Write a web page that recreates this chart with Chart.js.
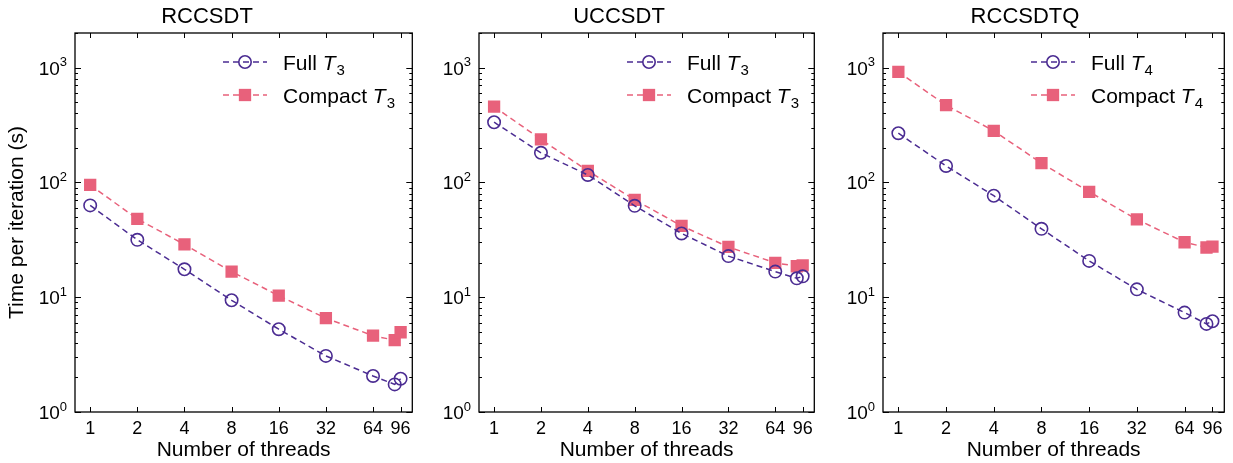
<!DOCTYPE html>
<html>
<head>
<meta charset="utf-8">
<script src="https://cdn.jsdelivr.net/npm/chart.js@4/dist/chart.umd.min.js"></script>
<style>
  html, body { margin: 0; padding: 0; background: #fff; }
  #wrap { position: relative; width: 1233px; height: 463px; }
  canvas { position: absolute; top: 0; }
</style>
</head>
<body>
<div id="wrap">
  <canvas id="c1" width="421" height="463" style="left:0px"></canvas>
  <canvas id="c2" width="402" height="463" style="left:421px"></canvas>
  <canvas id="c3" width="410" height="463" style="left:823px"></canvas>
</div>
<script>
// thread counts used in the runs and the tick labels on both axes
const threads = [1, 2, 4, 8, 16, 32, 64, 88, 96];
const xTickValues = [1, 2, 4, 8, 16, 32, 64, 96];
const yTickValues = [1, 10, 100, 1000];

// seconds per iteration
const rccsdtFull     = [63, 31.6, 17.5, 9.4, 5.26, 3.08, 2.06, 1.74, 1.95];
const rccsdtCompact  = [95, 48, 28.8, 16.7, 10.3, 6.56, 4.62, 4.22, 4.95];
const uccsdtFull     = [334, 181, 116, 62.5, 35.9, 22.8, 16.7, 14.6, 15.2];
const uccsdtCompact  = [457, 237, 126, 70.5, 41.8, 27.4, 19.9, 18.6, 18.9];
const rccsdtqFull    = [268, 139, 76.5, 39.4, 20.7, 11.7, 7.34, 5.85, 6.17];
const rccsdtqCompact = [916, 470, 281, 147, 82.8, 47.6, 30.1, 27.1, 27.6];

const PURPLE = '#4b2c92';
const PINK = '#e8617b';
const FONT = "'Liberation Sans', Arial, Helvetica, sans-serif";

function toPoints(values) {
  return threads.map((t, i) => ({x: t, y: values[i]}));
}

// frame, inward ticks on all four sides, 10^n labels and the inset legend
const framePlugin = {
  id: 'frame',
  afterDraw(chart, args, opts) {
    const ctx = chart.ctx;
    const {left, right, top, bottom} = chart.chartArea;
    const xs = chart.scales.x, ys = chart.scales.y;
    ctx.save();
    ctx.strokeStyle = '#000';
    ctx.lineWidth = 1;
    ctx.beginPath();
    xTickValues.forEach(v => {
      const px = Math.round(xs.getPixelForValue(v)) + 0.5;
      ctx.moveTo(px, bottom); ctx.lineTo(px, bottom - 5);
      ctx.moveTo(px, top); ctx.lineTo(px, top + 5);
    });
    for (let d = 0; d <= 3; d++) {
      for (let m = 1; m <= 9; m++) {
        const v = m * Math.pow(10, d);
        if (v > ys.max) break;
        const len = m === 1 ? 6 : 3;
        const py = Math.round(ys.getPixelForValue(v)) + 0.5;
        ctx.moveTo(left, py); ctx.lineTo(left + len, py);
        ctx.moveTo(right, py); ctx.lineTo(right - len, py);
      }
    }
    ctx.stroke();
    ctx.lineWidth = 1.3;
    ctx.strokeRect(left, top, right - left, bottom - top);

    // y tick labels with raised exponent
    ctx.fillStyle = '#000';
    ctx.textBaseline = 'alphabetic';
    ctx.textAlign = 'left';
    yTickValues.forEach(v => {
      const py = ys.getPixelForValue(v);
      const exp = String(Math.round(Math.log10(v)));
      ctx.font = '19px ' + FONT;
      const w1 = ctx.measureText('10').width;
      ctx.font = '13px ' + FONT;
      const w2 = ctx.measureText(exp).width;
      const x0 = left - 8;
      ctx.font = '19px ' + FONT;
      ctx.fillText('10', x0 - w2 - w1, py + 7);
      ctx.font = '13px ' + FONT;
      ctx.fillText(exp, x0 - w2, py - 1.5);
    });

    // legend
    const sub = opts.sub;
    chart.data.datasets.forEach((ds, i) => {
      const y = top + 29 + i * 33;
      const x1 = left + 148, x2 = left + 192, xm = left + 170;
      ctx.strokeStyle = ds.borderColor;
      ctx.lineWidth = ds.borderWidth;
      ctx.setLineDash(ds.borderDash);
      ctx.beginPath();
      ctx.moveTo(x1, y); ctx.lineTo(x2, y);
      ctx.stroke();
      ctx.setLineDash([]);
      if (ds.pointStyle === 'rect') {
        const s = Math.SQRT1_2 * ds.pointRadius;
        ctx.fillStyle = ds.pointBackgroundColor;
        ctx.fillRect(xm - s, y - s, 2 * s, 2 * s);
      } else {
        ctx.lineWidth = ds.pointBorderWidth;
        ctx.strokeStyle = ds.pointBorderColor;
        ctx.beginPath();
        ctx.arc(xm, y, ds.pointRadius, 0, Math.PI * 2);
        ctx.stroke();
      }
      ctx.fillStyle = '#000';
      let tx = left + 208;
      ctx.font = '21px ' + FONT;
      const name = ds.label + ' ';
      ctx.fillText(name, tx, y + 7.5);
      tx += ctx.measureText(name).width;
      ctx.font = 'italic 21px ' + FONT;
      ctx.fillText('T', tx, y + 7.5);
      tx += ctx.measureText('T').width + 1;
      ctx.font = '15px ' + FONT;
      ctx.fillText(sub, tx, y + 12.5);
    });
    ctx.restore();
  }
};

function makePanel(id, title, full, compact, sub, yWidth, padRight, showYTitle) {
  const data = {
    datasets: [{
      label: 'Full',
      data: toPoints(full),
      borderColor: PURPLE,
      borderWidth: 1.5,
      borderDash: [6, 4],
      pointStyle: 'circle',
      pointRadius: 6.2,
      pointBorderWidth: 1.6,
      pointBorderColor: PURPLE,
      pointBackgroundColor: 'rgba(0,0,0,0)',
      fill: false
    }, {
      label: 'Compact',
      data: toPoints(compact),
      borderColor: PINK,
      borderWidth: 1.5,
      borderDash: [6, 4],
      pointStyle: 'rect',
      pointRadius: 8.7,
      pointBorderWidth: 0,
      pointBorderColor: PINK,
      pointBackgroundColor: PINK,
      fill: false
    }]
  };
  const config = {
    type: 'line',
    data: data,
    options: {
      responsive: false,
      animation: false,
      devicePixelRatio: 1,
      layout: { padding: { left: 0, right: padRight, top: 0, bottom: 0 } },
      plugins: {
        legend: { display: false },
        tooltip: { enabled: false },
        title: {
          display: true,
          text: title,
          color: '#000',
          font: { family: FONT, size: 22, weight: 'normal', lineHeight: 1.2 },
          padding: { top: 4, bottom: 2.6 }
        },
        frame: { sub: sub }
      },
      scales: {
        x: {
          type: 'logarithmic',
          min: 0.8,
          max: 114,
          grid: { display: false, drawTicks: false },
          border: { display: false },
          afterBuildTicks: s => { s.ticks = xTickValues.map(v => ({value: v})); },
          afterFit: s => { s.height = 51; },
          ticks: {
            color: '#000',
            padding: 6,
            maxRotation: 0,
            autoSkip: false,
            font: { family: FONT, size: 18 },
            callback: v => String(v)
          },
          title: {
            display: true,
            text: 'Number of threads',
            color: '#000',
            font: { family: FONT, size: 21 },
            padding: { top: 0, bottom: 0 }
          }
        },
        y: {
          type: 'logarithmic',
          min: 1,
          max: 2000,
          grid: { display: false, drawTicks: false },
          border: { display: false },
          afterFit: s => { s.width = yWidth; },
          ticks: { display: false },
          title: {
            display: showYTitle,
            text: 'Time per iteration (s)',
            color: '#000',
            font: { family: FONT, size: 21 },
            padding: { top: 5, bottom: 0 }
          }
        }
      }
    },
    plugins: [framePlugin]
  };
  return new Chart(document.getElementById(id), config);
}

makePanel('c1', 'RCCSDT', rccsdtFull, rccsdtCompact, '3', 75, 7, true);
makePanel('c2', 'UCCSDT', uccsdtFull, uccsdtCompact, '3', 58, 6, false);
makePanel('c3', 'RCCSDTQ', rccsdtqFull, rccsdtqCompact, '4', 60, 6, false);
</script>
</body>
</html>
